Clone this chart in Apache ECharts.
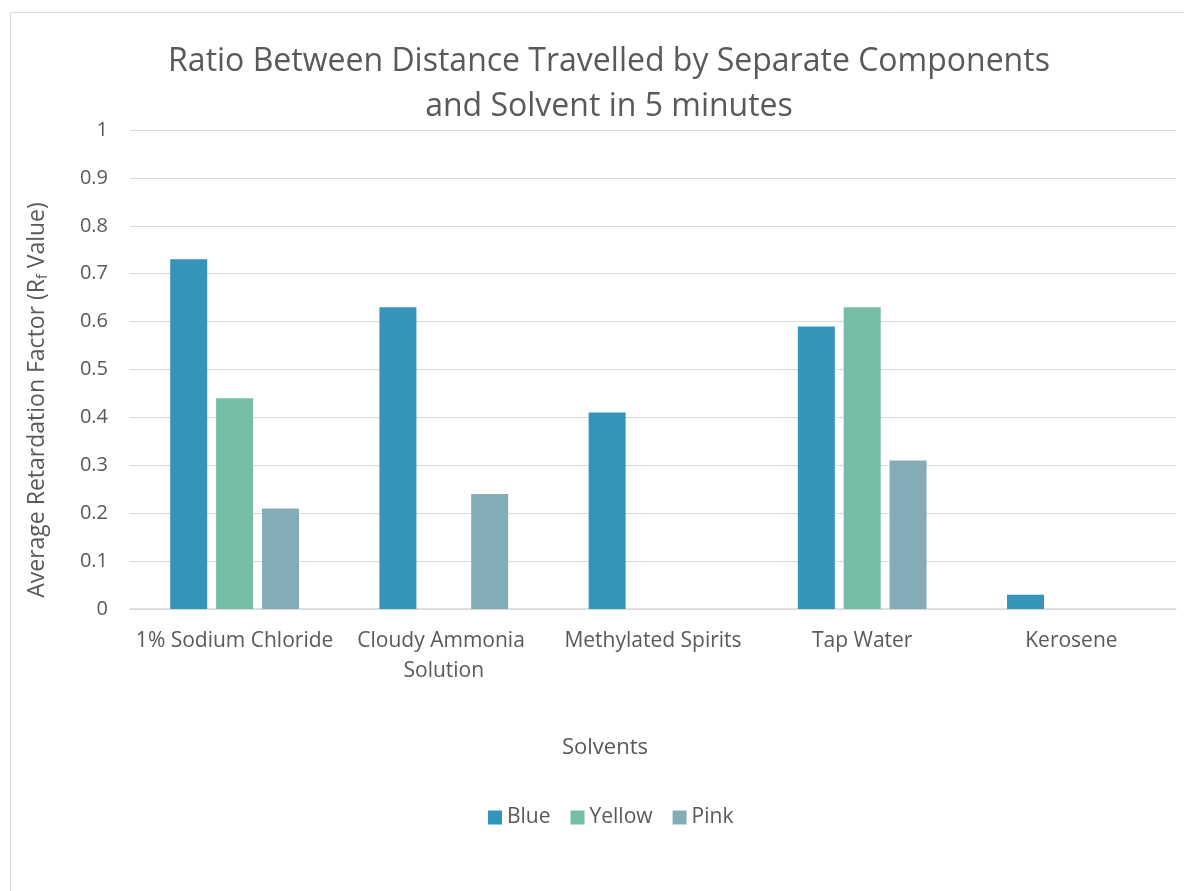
<!DOCTYPE html>
<html>
<head>
<meta charset="utf-8">
<script src="https://cdn.jsdelivr.net/npm/echarts@6/dist/echarts.min.js"></script>
<style>html,body{margin:0;padding:0;background:#fff}#c{width:1184px;height:891px}</style>
</head>
<body>
<div id="c"></div>
<script>
const categories = ['1% Sodium Chloride', 'Cloudy Ammonia Solution', 'Methylated Spirits', 'Tap Water', 'Kerosene'];
const blueValues = [0.73, 0.63, 0.41, 0.59, 0.03];
const yellowValues = [0.44, 0, 0, 0.63, 0];
const pinkValues = [0.21, 0.24, 0, 0.31, 0];
const seriesNames = ['Blue', 'Yellow', 'Pink'];
const yTicks = ['0', '0.1', '0.2', '0.3', '0.4', '0.5', '0.6', '0.7', '0.8', '0.9', '1'];

const font = '"Open Sans", "Noto Sans", sans-serif';
const txt = '#595959';
const chart = echarts.init(document.getElementById('c'));
chart.setOption({
  animation: false,
  color: ['#3494BA', '#75BDA7', '#84ACB6'],
  title: {
    text: 'Ratio Between Distance Travelled by Separate Components\nand Solvent in 5 minutes',
    left: 604, top: 34, textAlign: 'center',
    textStyle: { fontFamily: font, fontSize: 32, fontWeight: 'normal', color: txt, lineHeight: 45 }
  },
  graphic: [{
    type: 'rect', shape: { x: 10.5, y: 12.5, width: 1200, height: 900 },
    style: { fill: 'none', stroke: '#d9d9d9', lineWidth: 1 }, silent: true
  }, {
    type: 'text', x: 605, y: 748, silent: true,
    style: { text: 'Solvents', fontFamily: font, fontSize: 22, fill: txt, align: 'center', verticalAlign: 'middle' }
  }, {
    type: 'text', x: 37, y: 400, rotation: Math.PI / 2, silent: true,
    style: {
      text: '{a|Average Retardation Factor (R}{s|f}{a| Value)}',
      align: 'center', verticalAlign: 'middle',
      rich: {
        a: { fontFamily: font, fontSize: 23, fill: txt, color: txt },
        s: { fontFamily: font, fontSize: 14, fill: txt, color: txt, padding: [12, 0, 0, 0] }
      }
    }
  }],
  legend: {
    data: seriesNames, top: 802, left: 483, itemWidth: 14, itemHeight: 14, itemGap: 20,
    icon: 'rect',
    textStyle: { fontFamily: font, fontSize: 21, color: txt }
  },
  grid: { left: 130, right: 8, top: 130, bottom: 282 },
  xAxis: {
    type: 'category', data: categories,
    axisLine: { lineStyle: { color: '#d9d9d9', width: 1.5 } },
    axisTick: { show: false },
    axisLabel: { fontFamily: font, fontSize: 21, color: txt, margin: 17, lineHeight: 30, width: 205, overflow: 'break', interval: 0 }
  },
  yAxis: {
    type: 'value', min: 0, max: 1, interval: 0.1,
    axisLine: { show: false }, axisTick: { show: false },
    splitLine: { lineStyle: { color: '#d9d9d9', width: 1 } },
    axisLabel: { fontFamily: font, fontSize: 20, color: txt, margin: 22,
      formatter: function (v) { return yTicks[Math.round(v * 10)]; } }
  },
  series: [
    { name: seriesNames[0], type: 'bar', data: blueValues, barWidth: 37, barGap: '24%' },
    { name: seriesNames[1], type: 'bar', data: yellowValues, barWidth: 37, barGap: '24%' },
    { name: seriesNames[2], type: 'bar', data: pinkValues, barWidth: 37, barGap: '24%' }
  ]
});
</script>
</body>
</html>
